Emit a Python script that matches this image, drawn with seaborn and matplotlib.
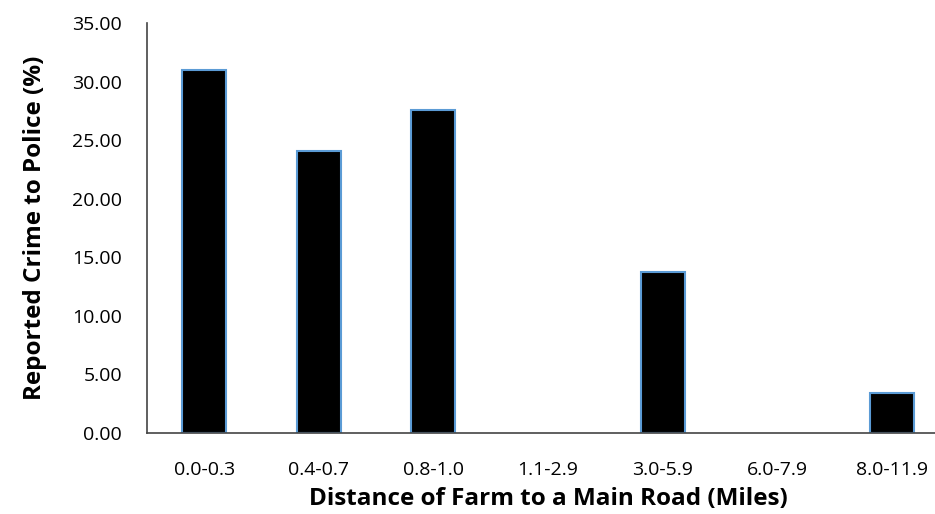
import pandas as pd
import matplotlib.pyplot as plt
import seaborn as sns

categories = ["0.0-0.3", "0.4-0.7", "0.8-1.0", "1.1-2.9", "3.0-5.9", "6.0-7.9", "8.0-11.9"]
reported = [31.0, 24.1, 27.6, 0.0, 13.75, 0.0, 3.45]

df = pd.DataFrame({"Distance": categories, "Reported": reported})

sns.set_theme(style="white")
plt.rcParams['font.family'] = ['Open Sans', 'DejaVu Sans']
plt.rcParams['text.color'] = 'black'
plt.rcParams['xtick.color'] = 'black'
plt.rcParams['ytick.color'] = 'black'
plt.rcParams['axes.labelcolor'] = 'black'

fig = plt.figure(figsize=(9.35, 5.14), dpi=100)
# axes runs a little past the right edge, like the cropped original
ax = fig.add_axes([147 / 935, 1 - 433 / 514, 802 / 935, 410 / 514])

sns.barplot(data=df, x="Distance", y="Reported", ax=ax, color="black",
            width=0.385, edgecolor="#5B9BD5", linewidth=1.5, saturation=1)

# empty categories show no outline
for bar, val in zip(ax.patches, reported):
    if val == 0:
        bar.set_linewidth(0)

ax.set_ylim(0, 35)
ax.set_yticks(range(0, 36, 5))
ax.set_yticklabels([f"{v:.2f}" for v in range(0, 36, 5)])
ax.set_xlim(-0.5, 6.5)

ax.set_xlabel("Distance of Farm to a Main Road (Miles)", fontsize=17.5, fontweight='bold', labelpad=6)
ax.set_ylabel("Reported Crime to Police (%)", fontsize=17.5, fontweight='bold', labelpad=18)
ax.tick_params(axis='y', labelsize=14, pad=18, length=0)
ax.tick_params(axis='x', labelsize=14, pad=20, length=0)

for side in ['top', 'right']:
    ax.spines[side].set_visible(False)
for side in ['left', 'bottom']:
    ax.spines[side].set_color("#444444")
    ax.spines[side].set_linewidth(1.2)

plt.savefig("out.png", dpi=100)
plt.close()
